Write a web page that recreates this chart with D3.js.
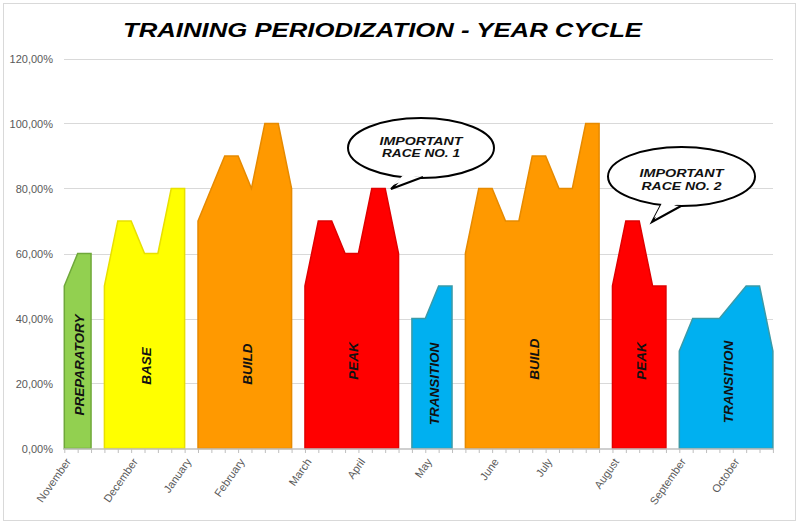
<!DOCTYPE html>
<html>
<head>
<meta charset="utf-8">
<script src="https://cdn.jsdelivr.net/npm/d3@7"></script>
<style>
  html, body { margin: 0; padding: 0; background: #fff; }
  svg { display: block; }
  text { font-family: "Liberation Sans", Arial, sans-serif; }
</style>
</head>
<body>
<svg id="chart" width="799" height="524"></svg>
<script>
// ---------- DATA ----------
const title = "TRAINING PERIODIZATION - YEAR CYCLE";
// 54 weekly categories; month name on the first week of each month
const weekLabels = [
  "November","","","","",
  "December","","","",
  "January","","","",
  "February","","","","",
  "March","","","",
  "April","","","","",
  "May","","","","",
  "June","","","",
  "July","","","","",
  "August","","","","",
  "September","","","",
  "October","","",""
];
const phaseNames  = ["PREPARATORY","BASE","BUILD","PEAK","TRANSITION","BUILD","PEAK","TRANSITION"];
const phaseStart  = [0, 3, 10, 18, 26, 30, 41, 46];
const preparatory = [0.50, 0.60, 0.60];
const base        = [0.50, 0.70, 0.70, 0.60, 0.60, 0.80, 0.80];
const build1      = [0.70, 0.80, 0.90, 0.90, 0.80, 1.00, 1.00, 0.80];
const peak1       = [0.50, 0.70, 0.70, 0.60, 0.60, 0.80, 0.80, 0.60];
const transition1 = [0.40, 0.40, 0.50, 0.50];
const build2      = [0.60, 0.80, 0.80, 0.70, 0.70, 0.90, 0.90, 0.80, 0.80, 1.00, 1.00];
const peak2       = [0.50, 0.70, 0.70, 0.50, 0.50];
const transition2 = [0.30, 0.40, 0.40, 0.40, 0.45, 0.50, 0.50, 0.30];
const phaseValues = [preparatory, base, build1, peak1, transition1, build2, peak2, transition2];
const yTicks = [0, 0.2, 0.4, 0.6, 0.8, 1.0, 1.2];
const callouts = [["IMPORTANT", "RACE NO. 1"], ["IMPORTANT", "RACE NO. 2"]];

// ---------- STYLE / LAYOUT ----------
const fills   = ["#92d050","#ffff00","#ff9900","#ff0000","#00b0f0","#ff9900","#ff0000","#00b0f0"];
const strokes = ["#6fa83a","#e8e000","#e68a00","#e00000","#3a9aa8","#e68a00","#e00000","#3a9aa8"];
const labelY  = [365, 366, 364, 361, 384, 359, 361, 382];
const calloutLayout = [
  {cx: 421, cy: 148, rx: 73, ry: 30, tail: [[404,176],[391,189],[423,177]], t1: 144.5, t2: 157, w1: 83, w2: 78},
  {cx: 681.5, cy: 176.5, rx: 73.5, ry: 29.5, tail: [[661,205],[652,222],[681,206]], t1: 177, t2: 189.5, w1: 84, w2: 80}
];

const svg = d3.select("#chart");

// outer border
svg.append("rect").attr("x", 3.5).attr("y", 3.5).attr("width", 792).attr("height", 517)
  .attr("fill", "#fff").attr("stroke", "#d9d9d9").attr("stroke-width", 1);

const x = d3.scaleLinear().domain([0, weekLabels.length - 1]).range([64.3, 772.9]);
const y = d3.scaleLinear().domain([0, 1.2]).range([448.5, 58.5]);

// gridlines
svg.append("g").selectAll("line").data(yTicks.slice(1)).join("line")
  .attr("x1", 64).attr("x2", 773)
  .attr("y1", d => Math.round(y(d)) + 0.5).attr("y2", d => Math.round(y(d)) + 0.5)
  .attr("stroke", "#d9d9d9").attr("stroke-width", 1);

// y axis labels
const yAxis = d3.axisLeft(y).tickValues(yTicks).tickSize(0).tickPadding(0)
  .tickFormat(d => d3.format(".2f")(d * 100).replace(".", ",") + "%");
const gy = svg.append("g").attr("transform", "translate(53,0)").call(yAxis);
gy.select(".domain").remove();
gy.selectAll("text").attr("font-size", 11).attr("fill", "#595959")
  .attr("font-family", "'Liberation Sans', Arial, sans-serif");

// areas
const area = d3.area()
  .x(d => x(d.i)).y0(y(0)).y1(d => y(d.v)).curve(d3.curveLinear);
const phases = phaseValues.map((vals, k) => ({
  name: phaseNames[k],
  pts: vals.map((v, j) => ({i: phaseStart[k] + j, v}))
}));
svg.append("g").selectAll("path").data(phases).join("path")
  .attr("d", d => area(d.pts))
  .attr("fill", (d, k) => fills[k])
  .attr("stroke", (d, k) => strokes[k])
  .attr("stroke-width", 1.5)
  .attr("stroke-linejoin", "miter");

// x axis
const xAxis = d3.axisBottom(x).tickValues(d3.range(weekLabels.length)).tickSize(4).tickFormat("");
const gx = svg.append("g").attr("transform", `translate(0,${y(0) + 0.5})`).call(xAxis);
gx.select(".domain").attr("stroke", "#bfbfbf").attr("stroke-width", 1.5).attr("d", `M${x(0)-1},0H${x(53)+1}`);
gx.selectAll(".tick line").attr("stroke", "#bfbfbf").attr("stroke-width", 1);

// month labels
svg.append("g").selectAll("text")
  .data(weekLabels.map((l, i) => ({l, i})).filter(d => d.l))
  .join("text")
  .attr("transform", d => `translate(${x(d.i) + 4},${y(0) + 11}) rotate(-55)`)
  .attr("text-anchor", "end")
  .attr("dy", "0.35em")
  .attr("font-size", 11)
  .attr("fill", "#595959")
  .text(d => d.l);

// phase labels
svg.append("g").selectAll("text").data(phases).join("text")
  .attr("transform", (d, k) => {
    const cx = (x(d.pts[0].i) + x(d.pts[d.pts.length - 1].i)) / 2 + 2;
    return `translate(${cx},${labelY[k]}) rotate(-90)`;
  })
  .attr("text-anchor", "middle")
  .attr("dy", "0.35em")
  .attr("font-size", 13.5)
  .attr("font-weight", "bold")
  .attr("font-style", "italic")
  .attr("fill", "#111")
  .text(d => d.name);

// callouts
callouts.forEach((lines, k) => {
  const c = calloutLayout[k];
  const g = svg.append("g");
  g.append("ellipse").attr("cx", c.cx).attr("cy", c.cy).attr("rx", c.rx).attr("ry", c.ry)
    .attr("fill", "#fff").attr("stroke", "#000").attr("stroke-width", 2);
  g.append("path").attr("d", d3.line()(c.tail))
    .attr("fill", "#fff").attr("stroke", "#000").attr("stroke-width", 2).attr("stroke-linejoin", "miter");
  // cover the seam inside the ellipse
  g.append("path").attr("d", d3.line()([[c.tail[0][0] + 1.5, c.tail[0][1] - 3], [c.tail[1][0] + 2, c.tail[1][1] - 4], [c.tail[2][0] - 2, c.tail[2][1] - 3]]) + "Z")
    .attr("fill", "#fff");
  [lines[0], lines[1]].forEach((t, j) => {
    g.append("text").attr("x", c.cx).attr("y", j === 0 ? c.t1 : c.t2)
      .attr("text-anchor", "middle")
      .attr("font-size", 11.5).attr("font-weight", "bold").attr("font-style", "italic")
      .attr("fill", "#111")
      .attr("textLength", j === 0 ? c.w1 : c.w2).attr("lengthAdjust", "spacingAndGlyphs")
      .text(t);
  });
});

// title
svg.append("text").attr("x", 382.5).attr("y", 36.7)
  .attr("text-anchor", "middle")
  .attr("font-size", 20).attr("font-weight", "bold").attr("font-style", "italic")
  .attr("fill", "#000")
  .attr("textLength", 519).attr("lengthAdjust", "spacingAndGlyphs")
  .text(title);
</script>
</body>
</html>
